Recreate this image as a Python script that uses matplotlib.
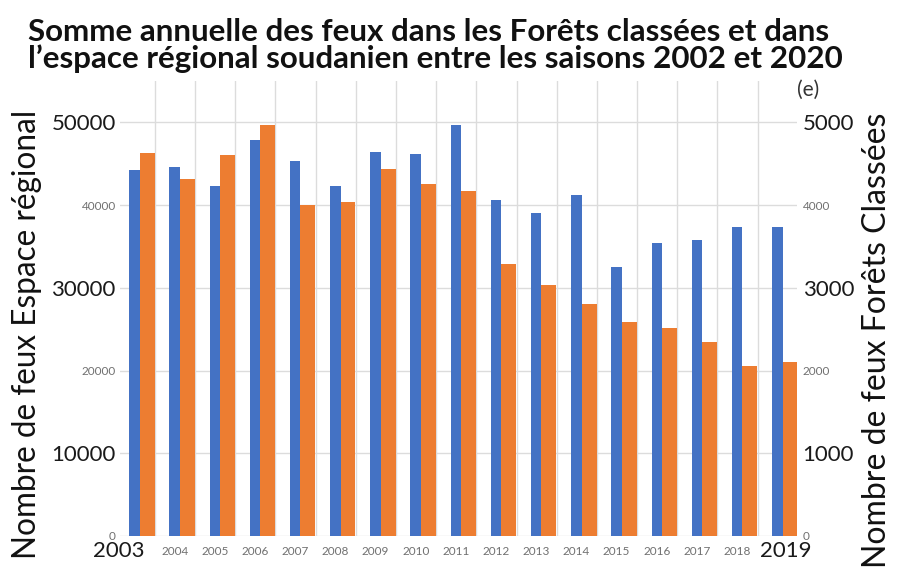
import matplotlib
matplotlib.use("Agg")
import matplotlib.pyplot as plt
import matplotlib.transforms as mtransforms

years = [str(y) for y in range(2003, 2020)]
espace_regional = [44200, 44600, 42300, 47900, 45300, 42300, 46400, 46200, 49700,
                   40600, 39100, 41200, 32500, 35400, 35800, 37300, 37300]
forets_classees = [4630, 4310, 4600, 4970, 4000, 4040, 4440, 4250, 4170,
                   3290, 3030, 2800, 2590, 2510, 2350, 2060, 2100]
left_ticks = [0, 10000, 20000, 30000, 40000, 50000]
right_ticks = [0, 1000, 2000, 3000, 4000, 5000]

BLUE = "#4472C4"
ORANGE = "#ED7D31"
GRID = "#DCDCDC"
FONT = "Lato"

fig = plt.figure(figsize=(8.98, 5.85), dpi=100)
ax = fig.add_axes([120/898, 1-536/585, 677/898, 455/585])
ax2 = ax.twinx()

x = list(range(len(years)))
bw, ow = 0.26, 0.37
ax.bar([i - 0.06 - bw/2 for i in x], espace_regional, width=bw, color=BLUE, zorder=3)
ax2.bar([i - 0.06 + ow/2 for i in x], forets_classees, width=ow, color=ORANGE, zorder=3)

ax.set_ylim(0, 55000)
ax2.set_ylim(0, 5500)
ax.set_xlim(-0.55, 16.3)

# grid
for v in left_ticks:
    ax.axhline(v, color=GRID, lw=1, zorder=0)
for i in x[:-1]:
    ax.axvline(i + 0.32, color=GRID, lw=1, zorder=0)

for a in (ax, ax2):
    for s in a.spines.values():
        s.set_visible(False)
    a.tick_params(length=0)

ax.set_yticks(left_ticks)
ax.set_yticklabels([str(v) for v in left_ticks])
for lab, v in zip(ax.get_yticklabels(), left_ticks):
    if v in (10000, 30000, 50000):
        lab.set_fontsize(16); lab.set_color("#1a1a1a"); lab.set_family(FONT)
    else:
        lab.set_fontsize(8.5); lab.set_color("#707070"); lab.set_family(FONT)
ax.tick_params(axis="y", pad=3)

ax2.set_yticks(right_ticks)
ax2.set_yticklabels([str(v) for v in right_ticks])
for lab, v in zip(ax2.get_yticklabels(), right_ticks):
    if v in (1000, 3000, 5000):
        lab.set_fontsize(16); lab.set_color("#1a1a1a"); lab.set_family(FONT)
    else:
        lab.set_fontsize(8.5); lab.set_color("#707070"); lab.set_family(FONT)
ax2.tick_params(axis="y", pad=4)

# x labels
ax.set_xticks([])
trans = mtransforms.blended_transform_factory(ax.transData, ax.transAxes)
for i, y in enumerate(years):
    if y in ("2003", "2019"):
        xp = -0.57 if y == "2003" else 16.02
        ax.text(xp, -0.012, y, transform=trans, ha="center", va="top",
                fontsize=16, color="#1a1a1a", family=FONT)
    else:
        ax.text(i - 0.19, -0.022, y, transform=trans, ha="center", va="top",
                fontsize=8.5, color="#707070", family=FONT)

fig.text(27/898, 1-334/585, "Nombre de feux Espace régional", rotation=90,
         ha="center", va="center", fontsize=22.7, family=FONT, color="#111111")
fig.text(877/898, 1-340/585, "Nombre de feux Forêts Classées", rotation=90,
         ha="center", va="center", fontsize=23, family=FONT, color="#111111")

fig.text(28/898, 1-41/585,
         "Somme annuelle des feux dans les Forêts classées et dans",
         ha="left", va="baseline", fontsize=22.6, fontweight="bold", family=FONT,
         color="#111111")
fig.text(28/898, 1-68/585,
         "l\u2019espace régional soudanien entre les saisons 2002 et 2020",
         ha="left", va="baseline", fontsize=22.6, fontweight="bold", family=FONT,
         color="#111111")
fig.text(808/898, 1-90/585, "(e)", ha="center", va="center", fontsize=15,
         family=FONT, color="#333333")

fig.savefig("out.png", dpi=100, facecolor="white")
